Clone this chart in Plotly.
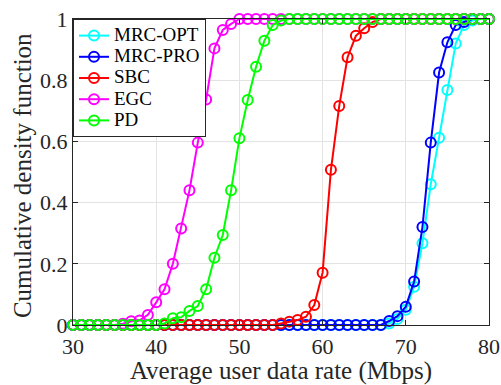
import plotly.graph_objects as go

rate = [30, 31, 32, 33, 34, 35, 36, 37, 38, 39,
        40, 41, 42, 43, 44, 45, 46, 47, 48, 49,
        50, 51, 52, 53, 54, 55, 56, 57, 58, 59,
        60, 61, 62, 63, 64, 65, 66, 67, 68, 69,
        70, 71, 72, 73, 74, 75, 76, 77, 78, 79, 80]

mrc_opt = [0, 0, 0, 0, 0, 0, 0, 0, 0, 0,
           0, 0, 0, 0, 0, 0, 0, 0, 0, 0,
           0, 0, 0, 0, 0, 0, 0, 0, 0, 0,
           0, 0, 0, 0, 0, 0, 0, 0, 0.005, 0.02,
           0.05, 0.125, 0.267, 0.46, 0.612, 0.768, 0.92, 0.98, 0.995, 1, 1]

mrc_pro = [0, 0, 0, 0, 0, 0, 0, 0, 0, 0,
           0, 0, 0, 0, 0, 0, 0, 0, 0, 0,
           0, 0, 0, 0, 0, 0, 0, 0, 0, 0,
           0, 0, 0, 0, 0, 0, 0, 0, 0.013, 0.029,
           0.06, 0.142, 0.32, 0.596, 0.825, 0.924, 0.98, 0.99, 1, 1, 1]

sbc = [0, 0, 0, 0, 0, 0, 0, 0, 0, 0,
       0, 0, 0, 0, 0, 0, 0, 0, 0, 0,
       0, 0, 0, 0, 0, 0.005, 0.011, 0.016, 0.027, 0.065,
       0.171, 0.507, 0.716, 0.875, 0.945, 0.97, 0.99, 1, 1, 1,
       1, 1, 1, 1, 1, 1, 1, 1, 1, 1, 1]

egc = [0, 0, 0, 0, 0, 0, 0.004, 0.012, 0.015, 0.033,
       0.074, 0.117, 0.2, 0.315, 0.44, 0.596, 0.737, 0.904, 0.964, 0.984,
       1, 1, 1, 1, 1, 1, 1, 1, 1, 1,
       1, 1, 1, 1, 1, 1, 1, 1, 1, 1,
       1, 1, 1, 1, 1, 1, 1, 1, 1, 1, 1]

pd_vals = [0, 0, 0, 0, 0, 0, 0, 0, 0, 0,
           0, 0.005, 0.022, 0.025, 0.046, 0.062, 0.117, 0.22, 0.294, 0.44,
           0.61, 0.735, 0.844, 0.929, 0.98, 0.995, 1, 1, 1, 1,
           1, 1, 1, 1, 1, 1, 1, 1, 1, 1,
           1, 1, 1, 1, 1, 1, 1, 1, 1, 1, 1]

series_names = ["MRC-OPT", "MRC-PRO", "SBC", "EGC", "PD"]
series_values = [mrc_opt, mrc_pro, sbc, egc, pd_vals]
series_colors = ["#00FFFF", "#0000FF", "#FF0000", "#FF00FF", "#00FF00"]

x_ticks = [30, 40, 50, 60, 70, 80]
y_ticks = [0, 0.2, 0.4, 0.6, 0.8, 1]
y_tick_labels = ["0", "0.2", "0.4", "0.6", "0.8", "1"]

FONT = "Liberation Serif, Times New Roman, serif"
AXC = "#262626"

fig = go.Figure()
for name, vals, col in zip(series_names, series_values, series_colors):
    fig.add_trace(go.Scatter(
        x=rate, y=vals, mode="lines+markers",
        name="<span style='font-size:19px'>" + name + "</span>",
        line=dict(color=col, width=2),
        marker=dict(symbol="circle-open", size=10, color=col, line=dict(width=2, color=col)),
        cliponaxis=False,
    ))

fig.update_layout(
    width=501, height=385,
    margin=dict(l=73, r=12, t=19, b=60),
    paper_bgcolor="white", plot_bgcolor="white",
    font=dict(family=FONT, size=22, color=AXC),
    showlegend=True,
    legend=dict(
        x=0, y=1, xanchor="left", yanchor="top",
        bgcolor="white", bordercolor="#262626", borderwidth=1,
        font=dict(family=FONT, size=14, color="#000000"),
        tracegroupgap=0, itemwidth=30,
    ),
    xaxis=dict(
        range=[30, 80], tickvals=x_ticks, ticktext=[str(v) for v in x_ticks],
        showgrid=True, gridcolor="#e3e3e3", gridwidth=1,
        showline=True, linecolor=AXC, linewidth=1, mirror="allticks",
        ticks="inside", ticklen=5, tickcolor=AXC, zeroline=False,
        automargin=False, ticklabelstandoff=2,
        title=dict(text="Average user data rate (Mbps)", font=dict(family=FONT, size=25, color=AXC), standoff=2),
        tickfont=dict(family=FONT, size=22, color=AXC),
    ),
    yaxis=dict(
        range=[0, 1], tickvals=y_ticks, ticktext=y_tick_labels,
        showgrid=True, gridcolor="#e3e3e3", gridwidth=1,
        showline=True, linecolor=AXC, linewidth=1, mirror="allticks",
        ticks="inside", ticklen=5, tickcolor=AXC, zeroline=False,
        automargin=False,
        tickfont=dict(family=FONT, size=22, color=AXC),
    ),
    annotations=[dict(
        text="Cumulative density function", textangle=-90,
        xref="paper", yref="paper", x=-0.12, y=0.487,
        xanchor="center", yanchor="middle", showarrow=False,
        font=dict(family=FONT, size=25, color=AXC),
    )],
)

fig.write_html("out.html")
